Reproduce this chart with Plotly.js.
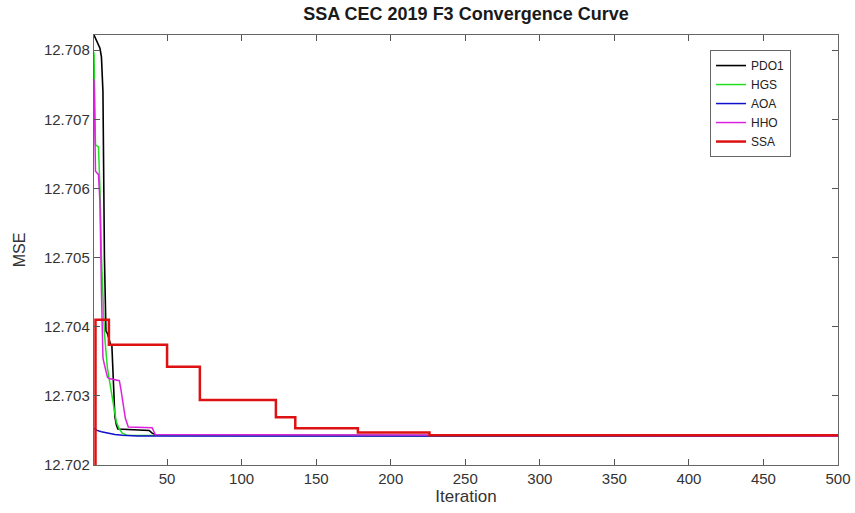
<!DOCTYPE html>
<html>
<head>
<meta charset="utf-8">
<script src="https://cdn.plot.ly/plotly-3.0.1.min.js"></script>
<style>html,body{margin:0;padding:0;background:#fff;}#chart{width:855px;height:513px;}</style>
</head>
<body>
<div id="chart"></div>
<script>
// PDO1
const pdoIter = [1, 3, 5, 6, 7, 8, 9, 10, 12, 13, 14, 15, 16, 17, 38, 40, 43, 500];
const pdoMSE  = [12.70822, 12.70812, 12.70803, 12.70790, 12.70740, 12.70500, 12.70394, 12.70390, 12.70375, 12.70372, 12.70310, 12.70270, 12.70258, 12.70252, 12.70250, 12.70246, 12.70243, 12.70242];
// HGS
const hgsIter = [1, 2, 4, 5, 6, 7, 8, 10, 12, 14, 16, 18, 20, 23, 500];
const hgsMSE  = [12.70797, 12.70663, 12.70660, 12.70600, 12.70500, 12.70430, 12.70390, 12.70340, 12.70312, 12.70285, 12.70262, 12.70252, 12.70246, 12.70243, 12.70242];
// AOA
const aoaIter = [1, 3, 6, 10, 15, 20, 30, 500];
const aoaMSE  = [12.70253, 12.70250, 12.70248, 12.70246, 12.70244, 12.70243, 12.70242, 12.70242];
// HHO
const hhoIter = [1, 2, 4, 5, 6, 7, 8, 10, 11, 18, 19, 20, 22, 24, 40, 42, 500];
const hhoMSE  = [12.70758, 12.70625, 12.70620, 12.70580, 12.70450, 12.70355, 12.70345, 12.70327, 12.70325, 12.70322, 12.70310, 12.70294, 12.70268, 12.70255, 12.70254, 12.70244, 12.70242];
// SSA (step curve)
const ssaIter = [1, 2, 11, 50, 72, 123, 136, 178, 226, 500];
const ssaMSE  = [12.70000, 12.70410, 12.70374, 12.70342, 12.70294, 12.70269, 12.70253, 12.70247, 12.70243, 12.70243];

const xTicks = [50, 100, 150, 200, 250, 300, 350, 400, 450, 500];
const yTicks = [12.702, 12.703, 12.704, 12.705, 12.706, 12.707, 12.708];

const traces = [
  {x: pdoIter, y: pdoMSE, name: 'PDO1', mode: 'lines', line: {color: '#000000', width: 1.6}},
  {x: hgsIter, y: hgsMSE, name: 'HGS', mode: 'lines', line: {color: '#22dd22', width: 1.5}},
  {x: aoaIter, y: aoaMSE, name: 'AOA', mode: 'lines', line: {color: '#1010cc', width: 1.5}},
  {x: hhoIter, y: hhoMSE, name: 'HHO', mode: 'lines', line: {color: '#dd22dd', width: 1.5}},
  {x: ssaIter, y: ssaMSE, name: 'SSA', mode: 'lines', line: {color: '#dd1111', width: 2.5, shape: 'hv'}}
];

const FAM = 'Liberation Sans, Arial, sans-serif';
const axisFont = {family: FAM, size: 15, color: '#333'};
const layout = {
  width: 855, height: 513,
  paper_bgcolor: '#ffffff', plot_bgcolor: '#ffffff',
  margin: {l: 94, r: 17, t: 35, b: 48},
  title: {text: '<b>SSA CEC 2019 F3 Convergence Curve</b>', x: 0.545, xanchor: 'center', y: 0.985, yanchor: 'top',
          font: {family: FAM, size: 18, color: '#1a1a1a'}},
  xaxis: {
    range: [1, 500], tickvals: xTicks, ticktext: xTicks.map(String),
    ticks: 'inside', ticklen: 6, tickcolor: '#555', showline: true, linecolor: '#666', linewidth: 1.2,
    mirror: 'ticks', showgrid: false, zeroline: false, tickfont: axisFont,
    title: {text: 'Iteration', font: {family: FAM, size: 17, color: '#333'}, standoff: 2}
  },
  yaxis: {
    range: [12.702, 12.70822], tickvals: yTicks, ticktext: yTicks.map(v => v.toFixed(3)),
    ticks: 'inside', ticklen: 6, tickcolor: '#555', showline: true, linecolor: '#666', linewidth: 1.2,
    mirror: 'ticks', showgrid: false, zeroline: false, tickfont: axisFont,
    title: {text: 'MSE', font: {family: FAM, size: 16, color: '#333'}, standoff: 14}
  },
  showlegend: true,
  legend: {
    x: 0.828, y: 0.965, xanchor: 'left', yanchor: 'top',
    bgcolor: '#ffffff', bordercolor: '#666', borderwidth: 1,
    font: {family: FAM, size: 12, color: '#222'},
    tracegroupgap: 0, itemwidth: 30, entrywidth: 100, entrywidthmode: 'pixels'
  }
};

Plotly.newPlot('chart', traces, layout, {displayModeBar: false, staticPlot: true});
</script>
</body>
</html>
